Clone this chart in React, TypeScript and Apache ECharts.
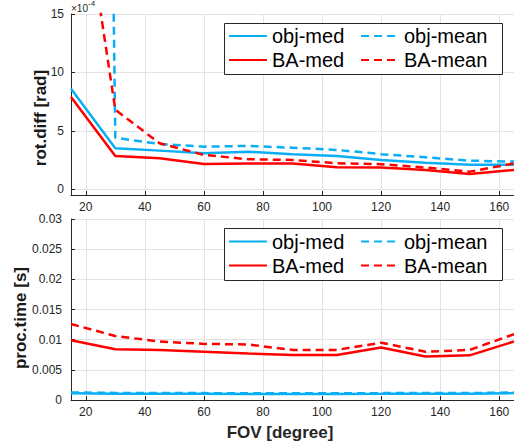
import React, { useEffect, useRef } from "react";
import * as echarts from "echarts";

const fov = [15, 30, 45, 60, 75, 90, 105, 120, 135, 150, 165];

// rotation difference, in units of 1e-4 rad
const rotObjMed = [8.6, 3.5, 3.3, 3.08, 3.2, 3.0, 2.85, 2.5, 2.27, 2.1, 2.1];
const rotObjMean = [300, 4.4, 3.87, 3.64, 3.7, 3.55, 3.36, 3.0, 2.73, 2.44, 2.36];
const rotBAMed = [7.9, 2.85, 2.65, 2.16, 2.2, 2.2, 1.88, 1.85, 1.65, 1.3, 1.65];
const rotBAMean = [32, 6.8, 3.93, 2.93, 2.56, 2.5, 2.22, 2.14, 1.85, 1.5, 2.2];

// processing time, seconds
const timeObjMed = [0.00112, 0.00105, 0.00103, 0.00102, 0.00101, 0.001, 0.00101, 0.00102, 0.00104, 0.00102, 0.00115];
const timeObjMean = [0.00125, 0.00118, 0.00115, 0.00114, 0.00113, 0.00112, 0.00113, 0.00114, 0.00118, 0.00114, 0.00125];
const timeBAMed = [0.0099, 0.0084, 0.0083, 0.008, 0.0077, 0.00745, 0.00745, 0.0087, 0.0072, 0.0074, 0.0097];
const timeBAMean = [0.0126, 0.0106, 0.0097, 0.0093, 0.0092, 0.0083, 0.0083, 0.0095, 0.008, 0.0083, 0.0109];

const seriesNames = ["obj-med", "obj-mean", "BA-med", "BA-mean"];
const BLUE = "#0AAEF5";
const RED = "#FF0000";
const FONT = "Liberation Sans, Arial, Helvetica, sans-serif";
const AX = "#262626";
const GRID = "#E3E3E3";

function pairs(ys: number[]) {
  return fov.map((x, i) => [x, ys[i]]);
}

function makeSeries(name: string, data: number[], idx: number) {
  const isMean = name.indexOf("mean") >= 0;
  const color = name.indexOf("obj") === 0 ? BLUE : RED;
  return {
    type: "line",
    name,
    xAxisIndex: idx,
    yAxisIndex: idx,
    data: pairs(data),
    symbol: "none",
    clip: true,
    z: name.indexOf("obj") === 0 ? 2 : 3,
    lineStyle: { color, width: 2.5, type: isMean ? [8, 5] : "solid" },
    itemStyle: { color },
  };
}

function xAxis(idx: number) {
  return {
    type: "value",
    gridIndex: idx,
    min: 15,
    max: 165,
    splitNumber: 8,
    axisLine: { show: true, onZero: false, lineStyle: { color: AX, width: 1 } },
    axisTick: { show: true, inside: true, length: 4, lineStyle: { color: AX } },
    axisLabel: {
      color: AX,
      fontSize: 12,
      fontFamily: FONT,
      margin: 6,
      showMinLabel: false,
      showMaxLabel: false,
    },
    splitLine: { show: true, lineStyle: { color: GRID, width: 1 } },
  };
}

function legendCol(names: string[], left: number, top: number) {
  return {
    orient: "vertical",
    left,
    top,
    data: names,
    itemWidth: 38,
    itemHeight: 14,
    itemGap: 4,
    selectedMode: false,
    padding: 0,
    z: 10,
    itemStyle: { opacity: 0 },
    textStyle: { fontSize: 20, color: "#000", fontFamily: FONT },
  };
}

export default function App() {
  const ref = useRef<HTMLDivElement>(null);
  useEffect(() => {
    if (!ref.current) return;
    const chart = echarts.init(ref.current, null, { renderer: "svg" });
    chart.setOption({
      animation: false,
      backgroundColor: "#fff",
      grid: [
        { left: 71, top: 14, right: 0, height: 181 },
        { left: 71, top: 219, right: 0, height: 181 },
      ],
      xAxis: [xAxis(0), xAxis(1)],
      yAxis: [
        {
          type: "value",
          gridIndex: 0,
          min: -0.5,
          max: 15,
          splitNumber: 3,
          axisLine: { show: true, lineStyle: { color: AX } },
          axisTick: { show: true, inside: true, length: 4, lineStyle: { color: AX } },
          axisLabel: { color: AX, fontSize: 12, fontFamily: FONT, margin: 7, showMinLabel: false },
          splitLine: { show: true, lineStyle: { color: GRID } },
        },
        {
          type: "value",
          gridIndex: 1,
          min: 0,
          max: 0.03,
          interval: 0.005,
          axisLine: { show: true, lineStyle: { color: AX } },
          axisTick: { show: true, inside: true, length: 4, lineStyle: { color: AX } },
          axisLabel: { color: AX, fontSize: 12, fontFamily: FONT, margin: 9 },
          splitLine: { show: true, lineStyle: { color: GRID } },
        },
      ],
      legend: [
        legendCol(["obj-med", "BA-med"], 228, 26),
        legendCol(["obj-mean", "BA-mean"], 360, 26),
        legendCol(["obj-med", "BA-med"], 228, 231.5),
        legendCol(["obj-mean", "BA-mean"], 360, 231.5),
      ],
      graphic: [
        {
          type: "rect",
          z: 5,
          shape: { x: 224.5, y: 23.5, width: 278, height: 51 },
          style: { fill: "#fff", stroke: AX, lineWidth: 1 },
        },
        {
          type: "rect",
          z: 5,
          shape: { x: 224.5, y: 228.5, width: 278, height: 52 },
          style: { fill: "#fff", stroke: AX, lineWidth: 1 },
        },
        {
          type: "text",
          x: 71,
          y: 8,
          style: { text: "×10", fill: AX, font: "10px " + FONT, verticalAlign: "middle", align: "left" },
        },
        {
          type: "text",
          x: 88,
          y: 3,
          style: { text: "-4", fill: AX, font: "8px " + FONT, verticalAlign: "middle", align: "left" },
        },
        {
          type: "text",
          x: 40,
          y: 118,
          rotation: Math.PI / 2,
          style: {
            text: "rot.diff [rad]",
            fill: "#1a1a1a",
            font: "bold 17px " + FONT,
            align: "center",
            verticalAlign: "middle",
          },
        },
        {
          type: "text",
          x: 20,
          y: 318,
          rotation: Math.PI / 2,
          style: {
            text: "proc.time [s]",
            fill: "#1a1a1a",
            font: "bold 17px " + FONT,
            align: "center",
            verticalAlign: "middle",
          },
        },
        {
          type: "text",
          x: 280,
          y: 432,
          style: {
            text: "FOV [degree]",
            fill: AX,
            font: "bold 17px " + FONT,
            align: "center",
            verticalAlign: "middle",
          },
        },
      ],
      series: [
        makeSeries(seriesNames[0], rotObjMed, 0),
        makeSeries(seriesNames[1], rotObjMean, 0),
        makeSeries(seriesNames[2], rotBAMed, 0),
        makeSeries(seriesNames[3], rotBAMean, 0),
        makeSeries(seriesNames[0], timeObjMed, 1),
        makeSeries(seriesNames[1], timeObjMean, 1),
        makeSeries(seriesNames[2], timeBAMed, 1),
        makeSeries(seriesNames[3], timeBAMean, 1),
      ],
    });
    return () => chart.dispose();
  }, []);
  return (
    <div
      ref={ref}
      style={{ position: "fixed", left: 0, top: 0, width: 514, height: 446 }}
    />
  );
}
